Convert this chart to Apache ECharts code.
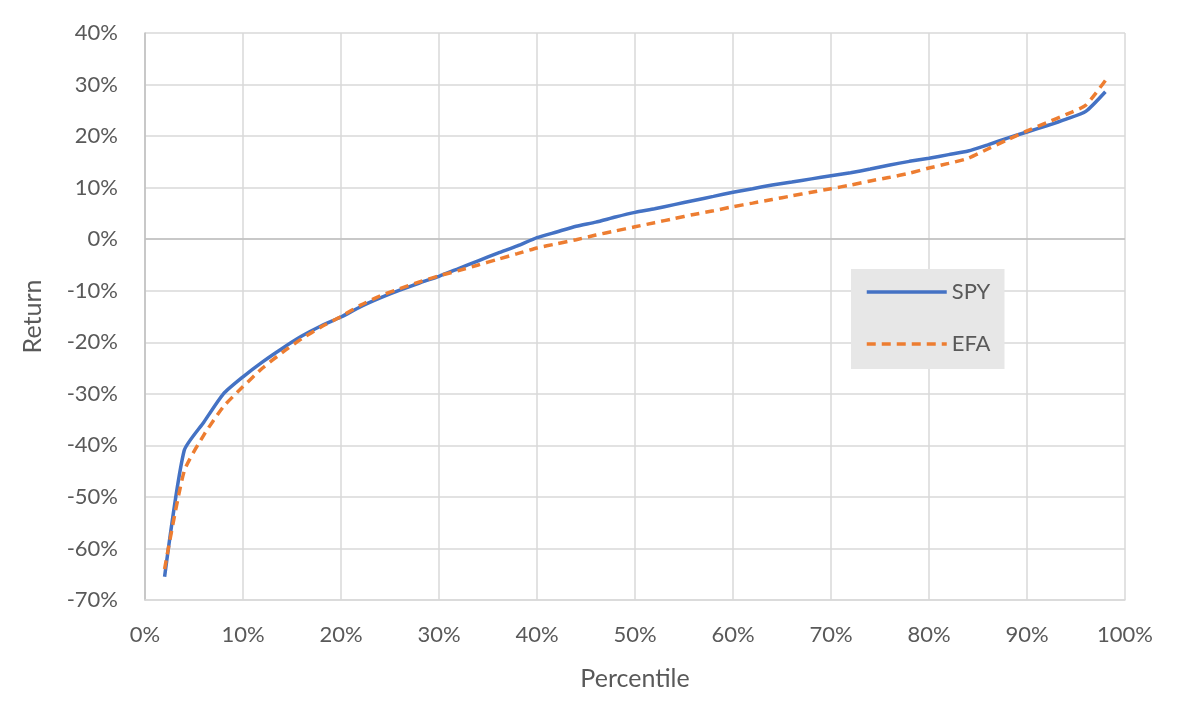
<!DOCTYPE html>
<html><head><meta charset="utf-8">
<script src="https://cdn.jsdelivr.net/npm/echarts@6/dist/echarts.min.js"></script>
<style>html,body{margin:0;padding:0;background:#fff}#c{width:1179px;height:708px}</style>
</head><body><div id="c"></div>
<script>
const percentiles = [2,4,6,8,10,12,14,16,18,20,22,24,26,28,30,32,34,36,38,40,42,44,46,48,50,52,54,56,58,60,62,64,66,68,70,72,74,76,78,80,82,84,86,88,90,92,94,96,98];
const spy = [-65.5,-41,-35.5,-30,-26.7,-23.8,-21.2,-18.8,-16.8,-15.1,-13.1,-11.4,-9.9,-8.5,-7.2,-5.7,-4.2,-2.7,-1.3,0.3,1.4,2.5,3.3,4.3,5.2,5.9,6.7,7.5,8.3,9.1,9.8,10.5,11.1,11.7,12.3,12.9,13.6,14.4,15.1,15.7,16.4,17.1,18.3,19.6,20.8,22.0,23.3,24.8,28.6];
const efa = [-64,-45,-38,-32.5,-28.6,-25,-22,-19.3,-17,-15,-12.8,-11,-9.6,-8.3,-7.1,-6.1,-5,-3.9,-2.8,-1.7,-0.9,-0.1,0.8,1.6,2.4,3.2,4.0,4.8,5.5,6.3,7.0,7.7,8.4,9.1,9.8,10.5,11.3,12.0,12.8,13.8,14.7,15.7,17.5,19.3,21.0,22.6,24.2,26.0,30.8];
const seriesNames = ['SPY','EFA'];
const xTitle = 'Percentile';
const yTitle = 'Return';

const font = 'Lato, "Open Sans", sans-serif';
const chart = echarts.init(document.getElementById('c'));
chart.setOption({
  animation:false,
  textStyle:{fontFamily:font},
  grid:{left:145,right:54,top:33,bottom:108},
  legend:{
    orient:'vertical', left:851, top:269,
    backgroundColor:'#e7e7e7', padding:[12,14,14,14],
    itemWidth:80, itemHeight:14, itemGap:30,
    itemStyle:{opacity:0},
    lineStyle:{width:3.5},
    textStyle:{fontSize:22,color:'#595959',fontFamily:font},
    data:seriesNames
  },
  xAxis:{type:'value',min:0,max:100,interval:10,
    name:xTitle,nameLocation:'middle',nameGap:66,
    nameTextStyle:{fontSize:25,color:'#595959'},
    axisLine:{show:true,onZero:false,lineStyle:{color:'#d9d9d9',width:1.5}},
    axisTick:{show:false},
    axisLabel:{formatter:'{value}%',fontSize:22,color:'#595959',margin:24},
    splitLine:{show:true,lineStyle:{color:'#d9d9d9',width:1.5}}},
  yAxis:{type:'value',min:-70,max:40,interval:10,
    name:yTitle,nameLocation:'middle',nameGap:100,nameRotate:90,
    nameTextStyle:{fontSize:25,color:'#595959'},
    axisLine:{show:true,lineStyle:{color:'#bfbfbf',width:1.5}},
    axisTick:{show:false},
    axisLabel:{formatter:'{value}%',fontSize:22,color:'#595959',margin:27},
    splitLine:{show:true,lineStyle:{color:'#d9d9d9',width:1.5}}},
  series:[
    {name:seriesNames[0],type:'line',data:percentiles.map((p,i)=>[p,spy[i]]),
     symbol:'none',smooth:0.2,lineStyle:{color:'#4472C4',width:3.5},itemStyle:{color:'#4472C4'},z:3,
     markLine:{silent:true,symbol:'none',label:{show:false},lineStyle:{color:'#bfbfbf',type:'solid',width:1.5},data:[{yAxis:0}],z:1}},
    {name:seriesNames[1],type:'line',data:percentiles.map((p,i)=>[p,efa[i]]),
     symbol:'none',smooth:0.2,lineStyle:{color:'#ED7D31',width:3.5,type:[9,6]},itemStyle:{color:'#ED7D31'},z:4}
  ]
});
</script></body></html>
